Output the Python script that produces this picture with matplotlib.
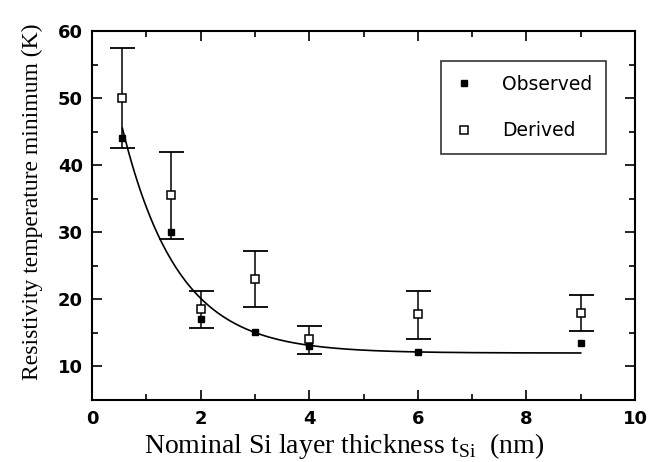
import numpy as np
import matplotlib
matplotlib.use("Agg")
import matplotlib.pyplot as plt
from matplotlib.ticker import MultipleLocator

# Si layer thickness (nm)
thickness = [0.56, 1.45, 2.0, 3.0, 4.0, 6.0, 9.0]
# measured resistivity minimum temperature (K)
observed = [44.0, 30.0, 17.1, 15.1, 13.0, 12.1, 13.5]
# derived values with their error range
derived = [50.0, 35.5, 18.6, 23.1, 14.1, 17.8, 18.0]
derived_low = [42.5, 29.0, 15.7, 18.9, 11.9, 14.1, 15.25]
derived_high = [57.5, 42.0, 21.3, 27.2, 16.1, 21.3, 20.6]

# exponential fit: T = t_inf + amp * exp(-t / decay)
t_inf, amp, decay = 12.0, 58.0, 1.02

plt.rcParams["mathtext.fontset"] = "custom"
plt.rcParams["mathtext.rm"] = "Liberation Serif"

W, H = 667, 462
fig = plt.figure(figsize=(W / 100, H / 100), dpi=100)
ax = fig.add_axes([92 / W, 1 - 400 / H, 543 / W, 369 / H])

x = np.array(thickness)
yerr = [np.array(derived) - np.array(derived_low),
        np.array(derived_high) - np.array(derived)]

x_fit = np.linspace(min(thickness), max(thickness), 300)
ax.plot(x_fit, t_inf + amp * np.exp(-x_fit / decay), color="black", lw=1.2, zorder=2)

ax.errorbar(x, derived, yerr=yerr, fmt="none", ecolor="black", elinewidth=1.1,
            capsize=9, capthick=1.3, zorder=3)
ax.plot(x, observed, "s", color="black", ms=5, zorder=4, label="Observed")
ax.plot(x, derived, "s", mfc="white", mec="black", mew=1.1, ms=5.5, zorder=5,
        label="Derived")

ax.set_xlim(0, 10)
ax.set_ylim(5, 60)
ax.xaxis.set_major_locator(MultipleLocator(2))
ax.xaxis.set_minor_locator(MultipleLocator(1))
ax.yaxis.set_major_locator(MultipleLocator(10))
ax.yaxis.set_minor_locator(MultipleLocator(5))
ax.tick_params(which="both", direction="in", top=True, right=True, width=1.2)
ax.tick_params(which="major", length=7)
ax.tick_params(which="minor", length=4)
ax.tick_params(axis="x", which="major", pad=7)
ax.tick_params(axis="y", which="major", pad=6.5)
for lab in ax.get_xticklabels() + ax.get_yticklabels():
    lab.set_fontfamily("DejaVu Sans")
    lab.set_fontweight("bold")
    lab.set_fontsize(13)
for sp in ax.spines.values():
    sp.set_linewidth(1.5)

# axis titles placed by baseline
fig.text(344 / W, 1 - 453 / H, r"Nominal Si layer thickness t$_{\rm Si}$  (nm)",
         family="Liberation Serif", fontsize=20, ha="center", va="baseline")
fig.text(38 / W, 1 - 202 / H, "Resistivity temperature minimum (K)",
         family="Liberation Serif", fontsize=17, ha="center", va="baseline",
         rotation=90, rotation_mode="anchor")

leg = ax.legend(loc="upper right", bbox_to_anchor=(0.947, 0.919),
                borderaxespad=0, frameon=True, fancybox=False,
                edgecolor="black", handlelength=1.0, handletextpad=1.5,
                borderpad=0.75, labelspacing=1.45,
                prop={"family": "DejaVu Sans", "size": 13.5})
leg.get_frame().set_linewidth(1.2)

fig.savefig("out.png", dpi=100)
